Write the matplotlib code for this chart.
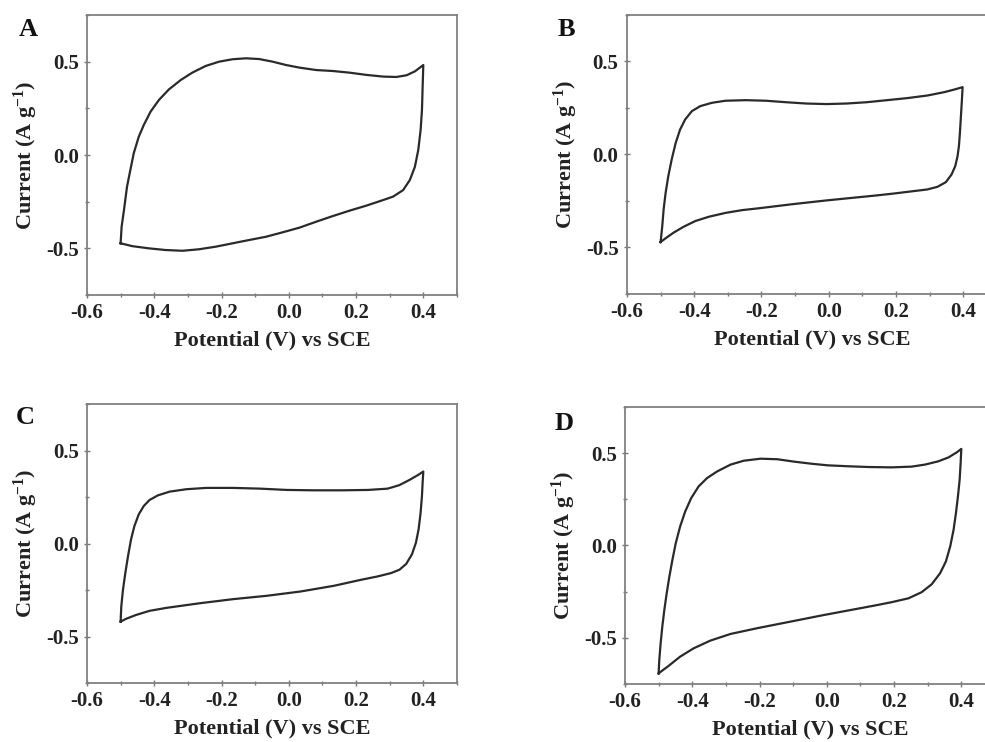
import matplotlib.pyplot as plt
from matplotlib.ticker import MultipleLocator

plt.rcParams['font.family'] = ['Liberation Serif', 'DejaVu Serif']
plt.rcParams['font.weight'] = 'bold'
plt.rcParams['axes.labelweight'] = 'bold'
plt.rcParams['mathtext.fontset'] = 'custom'
plt.rcParams['mathtext.rm'] = 'Liberation Serif:bold'
plt.rcParams['mathtext.bf'] = 'Liberation Serif:bold'
plt.rcParams['mathtext.default'] = 'bf'
plt.rcParams['axes.unicode_minus'] = False

# CV loops: forward scan then reverse scan
a_v = [-0.5, -0.497, -0.49, -0.481, -0.471, -0.461, -0.446, -0.431, -0.411, -0.386,
       -0.356, -0.321, -0.287, -0.247, -0.207, -0.167, -0.127, -0.088, -0.048, -0.008,
       0.032, 0.082, 0.131, 0.181, 0.231, 0.281, 0.32, 0.35, 0.375, 0.4,
       0.398, 0.396, 0.392, 0.385, 0.375, 0.36, 0.34, 0.31, 0.281, 0.231,
       0.181, 0.131, 0.082, 0.032, -0.018, -0.068, -0.117, -0.167, -0.217, -0.267,
       -0.316, -0.366, -0.416, -0.466, -0.486, -0.5]
a_i = [-0.473, -0.384, -0.295, -0.17, -0.08, 0.009, 0.098, 0.161, 0.232, 0.295,
       0.352, 0.402, 0.441, 0.477, 0.5, 0.513, 0.518, 0.514, 0.5, 0.482,
       0.468, 0.455, 0.45, 0.441, 0.429, 0.42, 0.418, 0.427, 0.448, 0.482,
       0.366, 0.241, 0.134, 0.027, -0.063, -0.134, -0.188, -0.223, -0.241, -0.271,
       -0.298, -0.327, -0.357, -0.389, -0.414, -0.438, -0.455, -0.473, -0.491, -0.505,
       -0.513, -0.509, -0.5, -0.488, -0.479, -0.473]

b_v = [-0.5, -0.495, -0.491, -0.485, -0.477, -0.467, -0.455, -0.442, -0.427, -0.407,
       -0.382, -0.347, -0.307, -0.247, -0.187, -0.127, -0.067, -0.007, 0.053, 0.113,
       0.173, 0.233, 0.293, 0.343, 0.373, 0.398,
       0.396, 0.393, 0.39, 0.387, 0.383, 0.376, 0.365, 0.348, 0.323, 0.293,
       0.243, 0.193, 0.143, 0.093, 0.043, -0.007, -0.107, -0.207, -0.257, -0.307,
       -0.357, -0.397, -0.432, -0.462, -0.487, -0.5]
b_i = [-0.471, -0.385, -0.296, -0.206, -0.116, -0.027, 0.063, 0.134, 0.188, 0.233,
       0.26, 0.278, 0.289, 0.292, 0.289, 0.281, 0.274, 0.271, 0.274, 0.281,
       0.292, 0.303, 0.317, 0.335, 0.349, 0.362,
       0.296, 0.206, 0.116, 0.045, -0.009, -0.063, -0.108, -0.149, -0.174, -0.188,
       -0.199, -0.21, -0.22, -0.229, -0.238, -0.247, -0.267, -0.289, -0.299, -0.314,
       -0.335, -0.358, -0.389, -0.421, -0.453, -0.471]

c_v = [-0.5, -0.498, -0.493, -0.486, -0.478, -0.469, -0.459, -0.446, -0.431, -0.414,
       -0.389, -0.354, -0.304, -0.245, -0.165, -0.085, -0.005, 0.075, 0.155, 0.235,
       0.294, 0.329, 0.359, 0.384, 0.4,
       0.398, 0.396, 0.392, 0.386, 0.378, 0.366, 0.349, 0.329, 0.304, 0.264,
       0.215, 0.135, 0.035, -0.065, -0.165, -0.264, -0.364, -0.414, -0.454, -0.484, -0.5]
c_i = [-0.42, -0.339, -0.249, -0.159, -0.068, 0.022, 0.094, 0.157, 0.202, 0.234,
       0.259, 0.279, 0.292, 0.299, 0.299, 0.295, 0.288, 0.286, 0.286, 0.288,
       0.295, 0.314, 0.342, 0.368, 0.387,
       0.328, 0.256, 0.166, 0.076, 0.004, -0.059, -0.11, -0.141, -0.159, -0.177,
       -0.195, -0.227, -0.258, -0.281, -0.299, -0.321, -0.346, -0.362, -0.384, -0.405, -0.42]

d_v = [-0.5, -0.498, -0.494, -0.489, -0.483, -0.476, -0.468, -0.459, -0.449, -0.436,
       -0.421, -0.403, -0.381, -0.356, -0.326, -0.286, -0.247, -0.197, -0.147, -0.097,
       -0.047, 0.003, 0.063, 0.123, 0.193, 0.252, 0.292, 0.332, 0.362, 0.387, 0.4,
       0.398, 0.395, 0.39, 0.384, 0.377, 0.367, 0.354, 0.337, 0.312, 0.282,
       0.243, 0.193, 0.143, 0.093, -0.007, -0.107, -0.207, -0.286, -0.346, -0.396,
       -0.436, -0.471, -0.491, -0.5]
d_i = [-0.693, -0.62, -0.53, -0.439, -0.349, -0.259, -0.168, -0.078, 0.013, 0.103,
       0.184, 0.257, 0.32, 0.365, 0.401, 0.438, 0.459, 0.47, 0.467, 0.454,
       0.443, 0.434, 0.429, 0.425, 0.423, 0.427, 0.438, 0.456, 0.477, 0.505, 0.523,
       0.447, 0.356, 0.266, 0.175, 0.085, -0.005, -0.087, -0.15, -0.21, -0.253,
       -0.286, -0.307, -0.325, -0.342, -0.376, -0.412, -0.448, -0.479, -0.515, -0.557,
       -0.602, -0.653, -0.68, -0.693]

letters = ['A', 'B', 'C', 'D']
x_ticks = [-0.6, -0.4, -0.2, 0.0, 0.2, 0.4]
y_ticks = [-0.5, 0.0, 0.5]

fig = plt.figure(figsize=(9.85, 7.42), dpi=100)

# axes rectangles in figure fractions (B and D run off the right edge)
boxes = [[0.0883, 0.6024, 0.3756, 0.3774],
         [0.6365, 0.6038, 0.3756, 0.3760],
         [0.0883, 0.0795, 0.3756, 0.3760],
         [0.6345, 0.0782, 0.3756, 0.3733]]
letter_pos = [(0.029, 0.960), (0.575, 0.960), (0.026, 0.438), (0.573, 0.429)]
loops = [(a_v, a_i), (b_v, b_i), (c_v, c_i), (d_v, d_i)]

for k in range(4):
    ax = fig.add_axes(boxes[k])
    v, i = loops[k]
    ax.plot(v, i, color='#2a2a2a', lw=1.6, solid_joinstyle='round')
    ax.set_xlim(-0.6, 0.5)
    ax.set_ylim(-0.75, 0.75)
    ax.set_xticks(x_ticks)
    ax.set_xticklabels(['%.1f' % t for t in x_ticks])
    ax.set_yticks(y_ticks)
    ax.set_yticklabels(['%.1f' % t for t in y_ticks])
    ax.xaxis.set_minor_locator(MultipleLocator(0.1))
    ax.yaxis.set_minor_locator(MultipleLocator(0.25))
    ax.tick_params(which='both', direction='inout', color='#777777', labelsize=15,
                   labelcolor='#222222', top=False, right=False)
    ax.tick_params(which='major', length=5, width=1)
    ax.tick_params(which='minor', length=3, width=1)
    for s in ax.spines.values():
        s.set_color('#808080')
        s.set_linewidth(1.3)
    ax.set_xlabel('Potential (V) vs SCE', fontsize=16, color='#222222', labelpad=5)
    ax.set_ylabel('Current (A g$^{-1}$)', fontsize=16, color='#222222', labelpad=4)
    fig.text(letter_pos[k][0], letter_pos[k][1], letters[k], fontsize=19,
             fontweight='bold', ha='center', va='center', color='#111111')

fig.savefig('out.png', dpi=100)
